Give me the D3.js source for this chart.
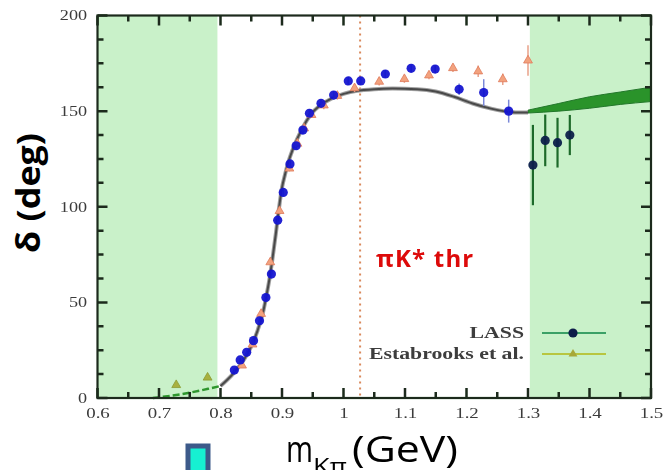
<!DOCTYPE html>
<html><head><meta charset="utf-8">
<script src="https://cdn.jsdelivr.net/npm/d3@7"></script>
<style>
html,body{margin:0;padding:0;background:#fff;}
svg{display:block;}
</style></head>
<body>
<svg id="c" width="669" height="470"></svg>
<script>
// ---- data ----
const xTickValues = [0.6,0.7,0.8,0.9,1.0,1.1,1.2,1.3,1.4,1.5];
const xTickLabels = ["0.6","0.7","0.8","0.9","1","1.1","1.2","1.3","1.4","1.5"];
const xMinorTicks = [0.65,0.75,0.85,0.95,1.05,1.15,1.25,1.35,1.45];
const yTickValues = [0,50,100,150,200];
const yTickLabels = ["0","50","100","150","200"];
const yMinorTicks = [12.5,25,37.5,62.5,75,87.5,112.5,125,137.5,162.5,175,187.5];
const shadeStart = [0.6, 1.303];
const shadeEnd = [0.795, 1.5];
const thresholdMass = 1.027;

const lassM = [0.8225,0.832,0.8426,0.8537,0.8634,0.8738,0.8828,0.893,0.902,0.913,0.923,0.934,0.9446,0.9634,0.984,1.0078,1.028,1.068,1.110,1.149,1.188,1.228,1.2686,1.308,1.328,1.348,1.368];
const lassD = [14.6,19.9,23.9,30.0,40.4,52.5,64.8,93,107.5,122.4,131.9,140.1,148.9,154.1,158.4,165.8,165.8,169.4,172.4,172,161.4,159.7,150,121.8,134.7,133.5,137.5];
const lassErr = [1,1,1,1,1.5,1.5,1.5,2,2,2,2,2,2,2,2,2,2,2,2,2,3,7,6,21,13.5,13,10.5];

const estM = [0.728,0.779,0.835,0.852,0.866,0.881,0.896,0.912,0.925,0.936,0.948,0.968,0.99,1.018,1.058,1.099,1.139,1.178,1.219,1.259,1.300];
const estD = [6.8,10.7,17,28,44,71,97.8,120,133,141,148,153,158,162,165.4,166.8,168.7,172.5,170.8,166.7,176.5];
const estErr = [1,1,1,1,1,1.5,1.5,1.5,1.5,1.5,1.5,2,2,2,2,2,2,2,3,3,8];

const lowCurveM = [0.69,0.72,0.75,0.78,0.80];
const lowCurveD = [0,1.2,2.8,4.8,6.3];
const curveM = [0.80,0.82,0.84,0.85,0.86,0.87,0.875,0.88,0.885,0.89,0.895,0.90,0.905,0.91,0.92,0.93,0.94,0.95,0.96,0.98,1.00,1.02,1.05,1.08,1.12,1.15,1.18,1.21,1.24,1.26,1.28,1.30];
const curveD = [6.3,12.5,21,27,35,46,54,63,74,86,99,110,117,123,132,139,145,149.5,152.5,156.5,159,160.5,161.5,161.8,161.5,160.3,157.5,154,151.3,150,149.3,149.3];
const bandM = [1.30,1.35,1.40,1.45,1.50];
const bandLo = [149,150,151.5,153.5,155];
const bandHi = [150.5,154,157.5,160,162.5];

const legendLabels = ["LASS","Estabrooks et al."];

// ---- drawing ----
const svg = d3.select("#c");
const x = d3.scaleLinear().domain([0.6,1.5]).range([97.5,651]);
const y = d3.scaleLinear().domain([0,200]).range([398,15.5]);
const inShade = m => shadeStart.some((s,i)=> m>=s && m<=shadeEnd[i]);

const defs = svg.append("defs");
defs.append("filter").attr("id","soft").attr("filterUnits","userSpaceOnUse")
  .attr("x",0).attr("y",0).attr("width",669).attr("height",470)
  .append("feGaussianBlur").attr("stdDeviation",0.7);

const g = svg.append("g").attr("filter","url(#soft)");

// shaded regions
g.selectAll("rect.shade").data(shadeStart).join("rect").attr("class","shade")
  .attr("x",(d)=>x(d)).attr("y",y(200)).attr("width",(d,i)=>x(shadeEnd[i])-x(d)).attr("height",y(0)-y(200))
  .attr("fill","#c9f1c9");

// threshold line
g.append("line").attr("x1",x(thresholdMass)).attr("x2",x(thresholdMass)).attr("y1",y(200)).attr("y2",y(0))
  .attr("stroke","#d98a5c").attr("stroke-width",2).attr("stroke-dasharray","2,4");

// green band
const bandData = bandM.map((m,i)=>({m,lo:bandLo[i],hi:bandHi[i]}));
g.append("path").datum(bandData)
  .attr("d",d3.area().x(d=>x(d.m)).y0(d=>y(d.lo)).y1(d=>y(d.hi)).curve(d3.curveMonotoneX))
  .attr("fill","#2b932b").attr("stroke","#22772a").attr("stroke-width",1);

// low curve (green dashed)
const lowData = lowCurveM.map((m,i)=>({m,d:lowCurveD[i]}));
g.append("path").datum(lowData)
  .attr("d",d3.line().x(d=>x(d.m)).y(d=>y(d.d)).curve(d3.curveMonotoneX))
  .attr("fill","none").attr("stroke","#2f962f").attr("stroke-width",2.5).attr("stroke-dasharray","7,3");

// main curve
const cData = curveM.map((m,i)=>({m,d:curveD[i]}));
const cLine = d3.line().x(d=>x(d.m)).y(d=>y(d.d)).curve(d3.curveMonotoneX);
g.append("path").datum(cData).attr("d",cLine)
  .attr("fill","none").attr("stroke","#a0a0a0").attr("stroke-width",4);
g.append("path").datum(cData).attr("d",cLine)
  .attr("fill","none").attr("stroke","#4a4a4a").attr("stroke-width",2);

// Estabrooks
const estData = estM.map((m,i)=>({m,d:estD[i],e:estErr[i]}));
g.selectAll("line.eerr").data(estData).join("line").attr("class","eerr")
  .attr("x1",d=>x(d.m)).attr("x2",d=>x(d.m)).attr("y1",d=>y(d.d-d.e)).attr("y2",d=>y(d.d+d.e))
  .attr("stroke","#e8a088").attr("stroke-width",1.5);
const tri = d3.symbol().type(d3.symbolTriangle).size(34);
g.selectAll("path.est").data(estData).join("path").attr("class","est")
  .attr("transform",d=>`translate(${x(d.m)},${y(d.d)})`).attr("d",tri)
  .attr("fill",d=>inShade(d.m)?"#a8b040":"#f2a27e").attr("stroke",d=>inShade(d.m)?"#8a9a30":"#e07a5a").attr("stroke-width",0.8);

// LASS
const lassData = lassM.map((m,i)=>({m,d:lassD[i],e:lassErr[i]}));
g.selectAll("line.lerr").data(lassData).join("line").attr("class","lerr")
  .attr("x1",d=>x(d.m)).attr("x2",d=>x(d.m)).attr("y1",d=>y(d.d-d.e)).attr("y2",d=>y(d.d+d.e))
  .attr("stroke",d=>inShade(d.m)?"#1f6a2a":"#7a88d8").attr("stroke-width",d=>inShade(d.m)?2.2:1.5);
g.selectAll("circle.lass").data(lassData).join("circle").attr("class","lass")
  .attr("cx",d=>x(d.m)).attr("cy",d=>y(d.d)).attr("r",4.6)
  .attr("fill",d=>inShade(d.m)?"#0c1e4a":"#1414d0").attr("fill-opacity",0.95);

// frame
g.append("rect").attr("x",x(0.6)).attr("y",y(200)).attr("width",x(1.5)-x(0.6)).attr("height",y(0)-y(200))
  .attr("fill","none").attr("stroke","#1b2b1b").attr("stroke-width",2.2);

// inward ticks on all four sides (positions from the scales)
const tickColor = "#1b2b1b";
const xTicksAll = xTickValues.map(v=>({v,len:10})).concat(xMinorTicks.map(v=>({v,len:6})));
const yTicksAll = yTickValues.map(v=>({v,len:10})).concat(yMinorTicks.map(v=>({v,len:6})));
const tickPath = [];
xTicksAll.forEach(d=>{
  tickPath.push(`M${x(d.v)},${y(0)}V${y(0)-d.len}`);
  tickPath.push(`M${x(d.v)},${y(200)}V${y(200)+d.len}`);
});
yTicksAll.forEach(d=>{
  tickPath.push(`M${x(0.6)},${y(d.v)}H${x(0.6)+d.len}`);
  tickPath.push(`M${x(1.5)},${y(d.v)}H${x(1.5)-d.len}`);
});
g.append("path").attr("d",tickPath.join("")).attr("fill","none")
  .attr("stroke",tickColor).attr("stroke-width",2.5);

// tick labels via d3 axes
const xb = g.append("g").attr("transform",`translate(0,${y(0)})`)
  .call(d3.axisBottom(x).tickValues(xTickValues).tickSize(0).tickPadding(10).tickFormat((d,i)=>xTickLabels[i]));
xb.select(".domain").remove();
xb.selectAll(".tick text").attr("font-family","Liberation Serif, serif").attr("font-size",14).attr("fill","#3a3a3a")
  .attr("transform","scale(1.35,1)");
const yl = g.append("g").attr("transform",`translate(${x(0.6)},0)`)
  .call(d3.axisLeft(y).tickValues(yTickValues).tickSize(0).tickPadding(8).tickFormat((d,i)=>yTickLabels[i]));
yl.select(".domain").remove();
yl.selectAll(".tick text").attr("font-family","Liberation Serif, serif").attr("font-size",14).attr("fill","#3a3a3a")
  .attr("transform","scale(1.3,1)");

// legend
const legY = [333,354];
const leg = g.append("g");
leg.selectAll("text").data(legendLabels).join("text")
  .attr("transform",(d,i)=>`translate(524,${legY[i]+5}) scale(1.32,1)`)
  .attr("text-anchor","end").attr("font-family","Liberation Serif, serif").attr("font-size",16.5).attr("font-weight","bold")
  .attr("fill","#3c3c3c").text(d=>d);
leg.selectAll("line").data(legendLabels).join("line")
  .attr("x1",542).attr("x2",606).attr("y1",(d,i)=>legY[i]).attr("y2",(d,i)=>legY[i])
  .attr("stroke",(d,i)=>i===0?"#3aa066":"#b8c640").attr("stroke-width",2.2);
leg.append("circle").attr("cx",573).attr("cy",legY[0]).attr("r",4.6).attr("fill","#0c1e4a");
leg.append("path").attr("transform",`translate(573,${legY[1]})`).attr("d",tri).attr("fill","#a8a838");

// overlay annotations (crisp)
svg.append("text").attr("x",376).attr("y",266.5).attr("font-family","Open Sans, sans-serif").attr("font-weight","bold")
  .attr("font-size",24).attr("letter-spacing",1.2).attr("fill","#dd0a0a").text("πK* thr");

svg.append("text").attr("transform","translate(40,193) rotate(-90)").attr("text-anchor","middle")
  .attr("font-family","Open Sans, sans-serif").attr("font-weight","bold").attr("font-size",32)
  .attr("textLength",120).attr("lengthAdjust","spacingAndGlyphs").attr("fill","#000").text("δ (deg)");

svg.append("text").attr("x",286).attr("y",462).attr("font-family","Open Sans, sans-serif").attr("font-size",36)
  .attr("textLength",27).attr("lengthAdjust","spacingAndGlyphs").attr("fill","#000").text("m");
svg.append("text").attr("x",313).attr("y",474).attr("font-family","Open Sans, sans-serif").attr("font-size",22)
  .attr("textLength",34).attr("lengthAdjust","spacingAndGlyphs").attr("fill","#000").text("Kπ");
svg.append("text").attr("x",352).attr("y",462).attr("font-family","Open Sans, sans-serif").attr("font-size",37)
  .attr("textLength",106).attr("lengthAdjust","spacingAndGlyphs").attr("fill","#000").text("(GeV)");

svg.append("rect").attr("x",188).attr("y",446).attr("width",20).attr("height",40)
  .attr("fill","#16f0d2").attr("stroke","#3d5a8a").attr("stroke-width",5);
</script>
</body></html>
